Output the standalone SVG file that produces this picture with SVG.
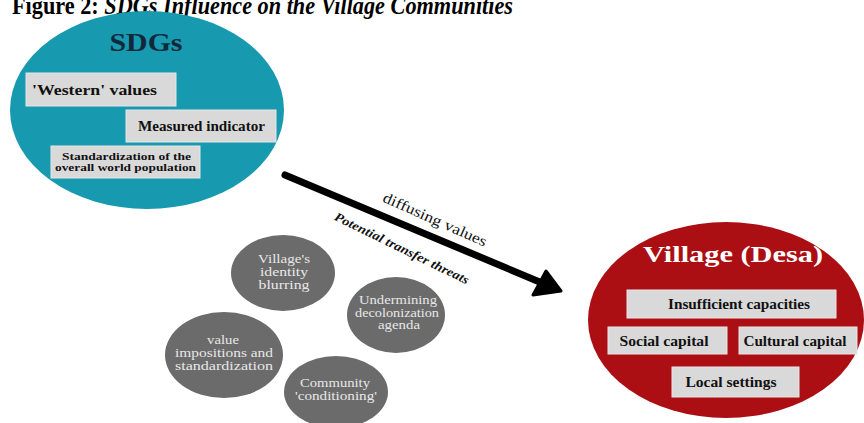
<svg xmlns="http://www.w3.org/2000/svg" width="864" height="423" viewBox="0 0 864 423">
<defs>
<style>
.t{font-family:"Liberation Serif","Times New Roman",serif;}
.box{fill:#d9d9d9;stroke:#e6e6e6;stroke-width:1;}
.bt{font-family:"Liberation Serif","Times New Roman",serif;font-weight:bold;fill:#111;text-anchor:middle;}
.gc{fill:#6b6b6b;}
.gt{font-family:"Liberation Serif","Times New Roman",serif;fill:#e8e8e8;font-size:12px;text-anchor:middle;}
</style>
</defs>
<rect width="864" height="423" fill="#ffffff"/>
<text class="t" x="12" y="14" font-size="26" font-weight="bold" fill="#000" textLength="501" lengthAdjust="spacingAndGlyphs">Figure 2: <tspan font-style="italic">SDGs Influence on the Village Communities</tspan></text>

<g id="sdgs">
<ellipse cx="147" cy="110" rx="137" ry="99" fill="#1799b0"/>
<text class="t" x="146" y="51" font-size="25" font-weight="bold" fill="#10283a" text-anchor="middle" textLength="73" lengthAdjust="spacingAndGlyphs">SDGs</text>
<rect class="box" x="26" y="73" width="150" height="33"/>
<text class="bt" x="94.5" y="95" font-size="14" textLength="125" lengthAdjust="spacingAndGlyphs">'Western' values</text>
<rect class="box" x="126" y="110" width="150" height="32"/>
<text class="bt" x="201.5" y="131" font-size="14" textLength="127" lengthAdjust="spacingAndGlyphs">Measured indicator</text>
<rect class="box" x="51" y="146" width="149" height="32"/>
<text class="bt" x="126.5" y="160" font-size="10.5" textLength="129" lengthAdjust="spacingAndGlyphs">Standardization of the</text>
<text class="bt" x="125.5" y="170.5" font-size="10.5" textLength="141" lengthAdjust="spacingAndGlyphs">overall world population</text>
</g>

<g id="village">
<ellipse cx="726" cy="320" rx="138" ry="98" fill="#ab0f14"/>
<text class="t" x="733" y="262" font-size="24" font-weight="bold" fill="#ffffff" text-anchor="middle" textLength="180" lengthAdjust="spacingAndGlyphs">Village (Desa)</text>
<rect class="box" x="627" y="290" width="209" height="28"/>
<text class="bt" x="739" y="309" font-size="14" textLength="142" lengthAdjust="spacingAndGlyphs">Insufficient capacities</text>
<rect class="box" x="608" y="327" width="119" height="27"/>
<text class="bt" x="664" y="346" font-size="14" textLength="89" lengthAdjust="spacingAndGlyphs">Social capital</text>
<rect class="box" x="739" y="327" width="118" height="27"/>
<text class="bt" x="795" y="346" font-size="14" textLength="103" lengthAdjust="spacingAndGlyphs">Cultural capital</text>
<rect class="box" x="672" y="367" width="127" height="30"/>
<text class="bt" x="731" y="387" font-size="14" textLength="91" lengthAdjust="spacingAndGlyphs">Local settings</text>
</g>

<g id="threat-identity">
<ellipse class="gc" cx="283" cy="273" rx="52" ry="38"/>
<text class="gt" x="284" y="263" textLength="52" lengthAdjust="spacingAndGlyphs">Village's</text>
<text class="gt" x="284" y="276" textLength="48" lengthAdjust="spacingAndGlyphs">identity</text>
<text class="gt" x="284" y="289" textLength="51" lengthAdjust="spacingAndGlyphs">blurring</text>
</g>
<g id="threat-decolonization">
<ellipse class="gc" cx="396" cy="315" rx="49" ry="38"/>
<text class="gt" x="398" y="304" textLength="78" lengthAdjust="spacingAndGlyphs">Undermining</text>
<text class="gt" x="397" y="316.5" textLength="84" lengthAdjust="spacingAndGlyphs">decolonization</text>
<text class="gt" x="399" y="329" textLength="42" lengthAdjust="spacingAndGlyphs">agenda</text>
</g>
<g id="threat-imposition">
<ellipse class="gc" cx="224" cy="355" rx="59" ry="43"/>
<text class="gt" x="223" y="344" textLength="32" lengthAdjust="spacingAndGlyphs">value</text>
<text class="gt" x="224" y="357" textLength="98" lengthAdjust="spacingAndGlyphs">impositions and</text>
<text class="gt" x="224" y="370" textLength="98" lengthAdjust="spacingAndGlyphs">standardization</text>
</g>
<g id="threat-conditioning">
<ellipse class="gc" cx="336" cy="392" rx="52" ry="36"/>
<text class="gt" x="335" y="387" textLength="70" lengthAdjust="spacingAndGlyphs">Community</text>
<text class="gt" x="336" y="400" textLength="82" lengthAdjust="spacingAndGlyphs">'conditioning'</text>
</g>

<g id="connectors">
<line x1="285" y1="175" x2="542" y2="283" stroke="#000" stroke-width="7" stroke-linecap="round"/>
<polygon points="546,271 533,295 561,291" fill="#000" stroke="#000" stroke-width="3" stroke-linejoin="round"/>
<text class="t" x="0" y="0" font-size="15" fill="#111" text-anchor="middle" transform="translate(433,224) rotate(24)" textLength="112" lengthAdjust="spacingAndGlyphs">diffusing values</text>
<text class="t" x="0" y="0" font-size="12.5" font-weight="bold" font-style="italic" fill="#111" text-anchor="middle" transform="translate(400,252) rotate(26)" textLength="148" lengthAdjust="spacingAndGlyphs">Potential transfer threats</text>
</g>
</svg>
